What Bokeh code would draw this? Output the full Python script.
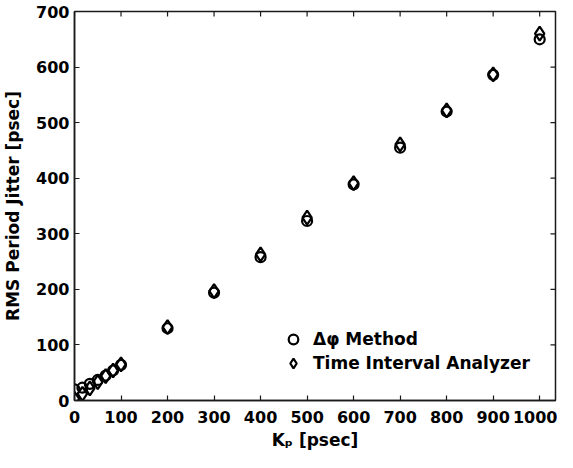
import numpy as np
from bokeh.plotting import figure
from bokeh.models import SingleIntervalTicker, Range1d, Legend
from bokeh.embed import file_html
from bokeh.resources import INLINE

# Data
kp = [0, 17, 33, 50, 67, 83, 100, 200, 300, 400, 500, 600, 700, 800, 900, 1000]
dphi = [20, 23, 30, 37, 45, 54, 64, 130, 194, 258, 323, 389, 455, 520, 586, 650]
tia = [3, 12, 22, 33, 44, 54, 65, 132, 197, 263, 329, 391, 461, 522, 587, 660]

x_tick_values = [0, 100, 200, 300, 400, 500, 600, 700, 800, 900, 1000]
y_tick_values = [0, 100, 200, 300, 400, 500, 600, 700]

FONT = "DejaVu Sans"
X_MAX = 1034
Y_MAX = 700

p = figure(width=557, height=452, output_backend="svg", toolbar_location=None,
           x_range=Range1d(0, X_MAX), y_range=Range1d(0, Y_MAX),
           min_border_left=68, min_border_right=2, min_border_top=11, min_border_bottom=52)
p.grid.visible = False
p.outline_line_color = "#1a1a1a"
p.outline_line_width = 1.5
p.background_fill_color = "white"
p.border_fill_color = "white"

for ax in (p.xaxis[0], p.yaxis[0]):
    ax.ticker = SingleIntervalTicker(interval=100, num_minor_ticks=0)
    ax.major_tick_in = 5
    ax.major_tick_out = 0
    ax.minor_tick_line_color = None
    ax.axis_line_color = "#1a1a1a"
    ax.axis_line_width = 1.5
    ax.major_tick_line_color = "#1a1a1a"
    ax.major_tick_line_width = 1.2
    ax.major_label_text_font = FONT
    ax.major_label_text_font_style = "bold"
    ax.major_label_text_font_size = "16px"
    ax.major_label_text_color = "black"
    ax.axis_label_text_font = FONT
    ax.axis_label_text_font_style = "bold"
    ax.axis_label_text_font_size = "17px"
    ax.axis_label_text_color = "black"

p.xaxis[0].major_label_standoff = 10
p.xaxis[0].axis_label = "K\u209a [psec]"
p.xaxis[0].axis_label_standoff = 4
p.yaxis[0].major_label_standoff = 5
p.yaxis[0].axis_label = "RMS Period Jitter [psec]"
p.yaxis[0].axis_label_standoff = 10

# inward ticks on top and right edges (half of each dash is clipped by the frame)
p.scatter(x_tick_values, [Y_MAX] * len(x_tick_values), marker="dash", angle=np.pi / 2,
          size=10, line_color="#1a1a1a", line_width=1.2)
p.scatter([X_MAX] * len(y_tick_values), y_tick_values, marker="dash",
          size=10, line_color="#1a1a1a", line_width=1.2)

r1 = p.scatter(kp, dphi, marker="circle", size=10, fill_color=None,
               line_color="black", line_width=2.2)
r2 = p.scatter(kp, tia, marker="diamond", size=14, fill_color=None,
               line_color="black", line_width=2.2)

legend = Legend(items=[("Δφ Method", [r1]), ("Time Interval Analyzer", [r2])],
                location=(199, 17), padding=8, spacing=0,
                label_text_font=FONT, label_text_font_style="bold",
                label_text_font_size="17px", label_standoff=8,
                label_text_color="black",
                glyph_width=24, glyph_height=24, label_height=24,
                background_fill_alpha=0, border_line_alpha=0)
p.add_layout(legend, "center")

open("out.html", "w").write(file_html(p, INLINE))
